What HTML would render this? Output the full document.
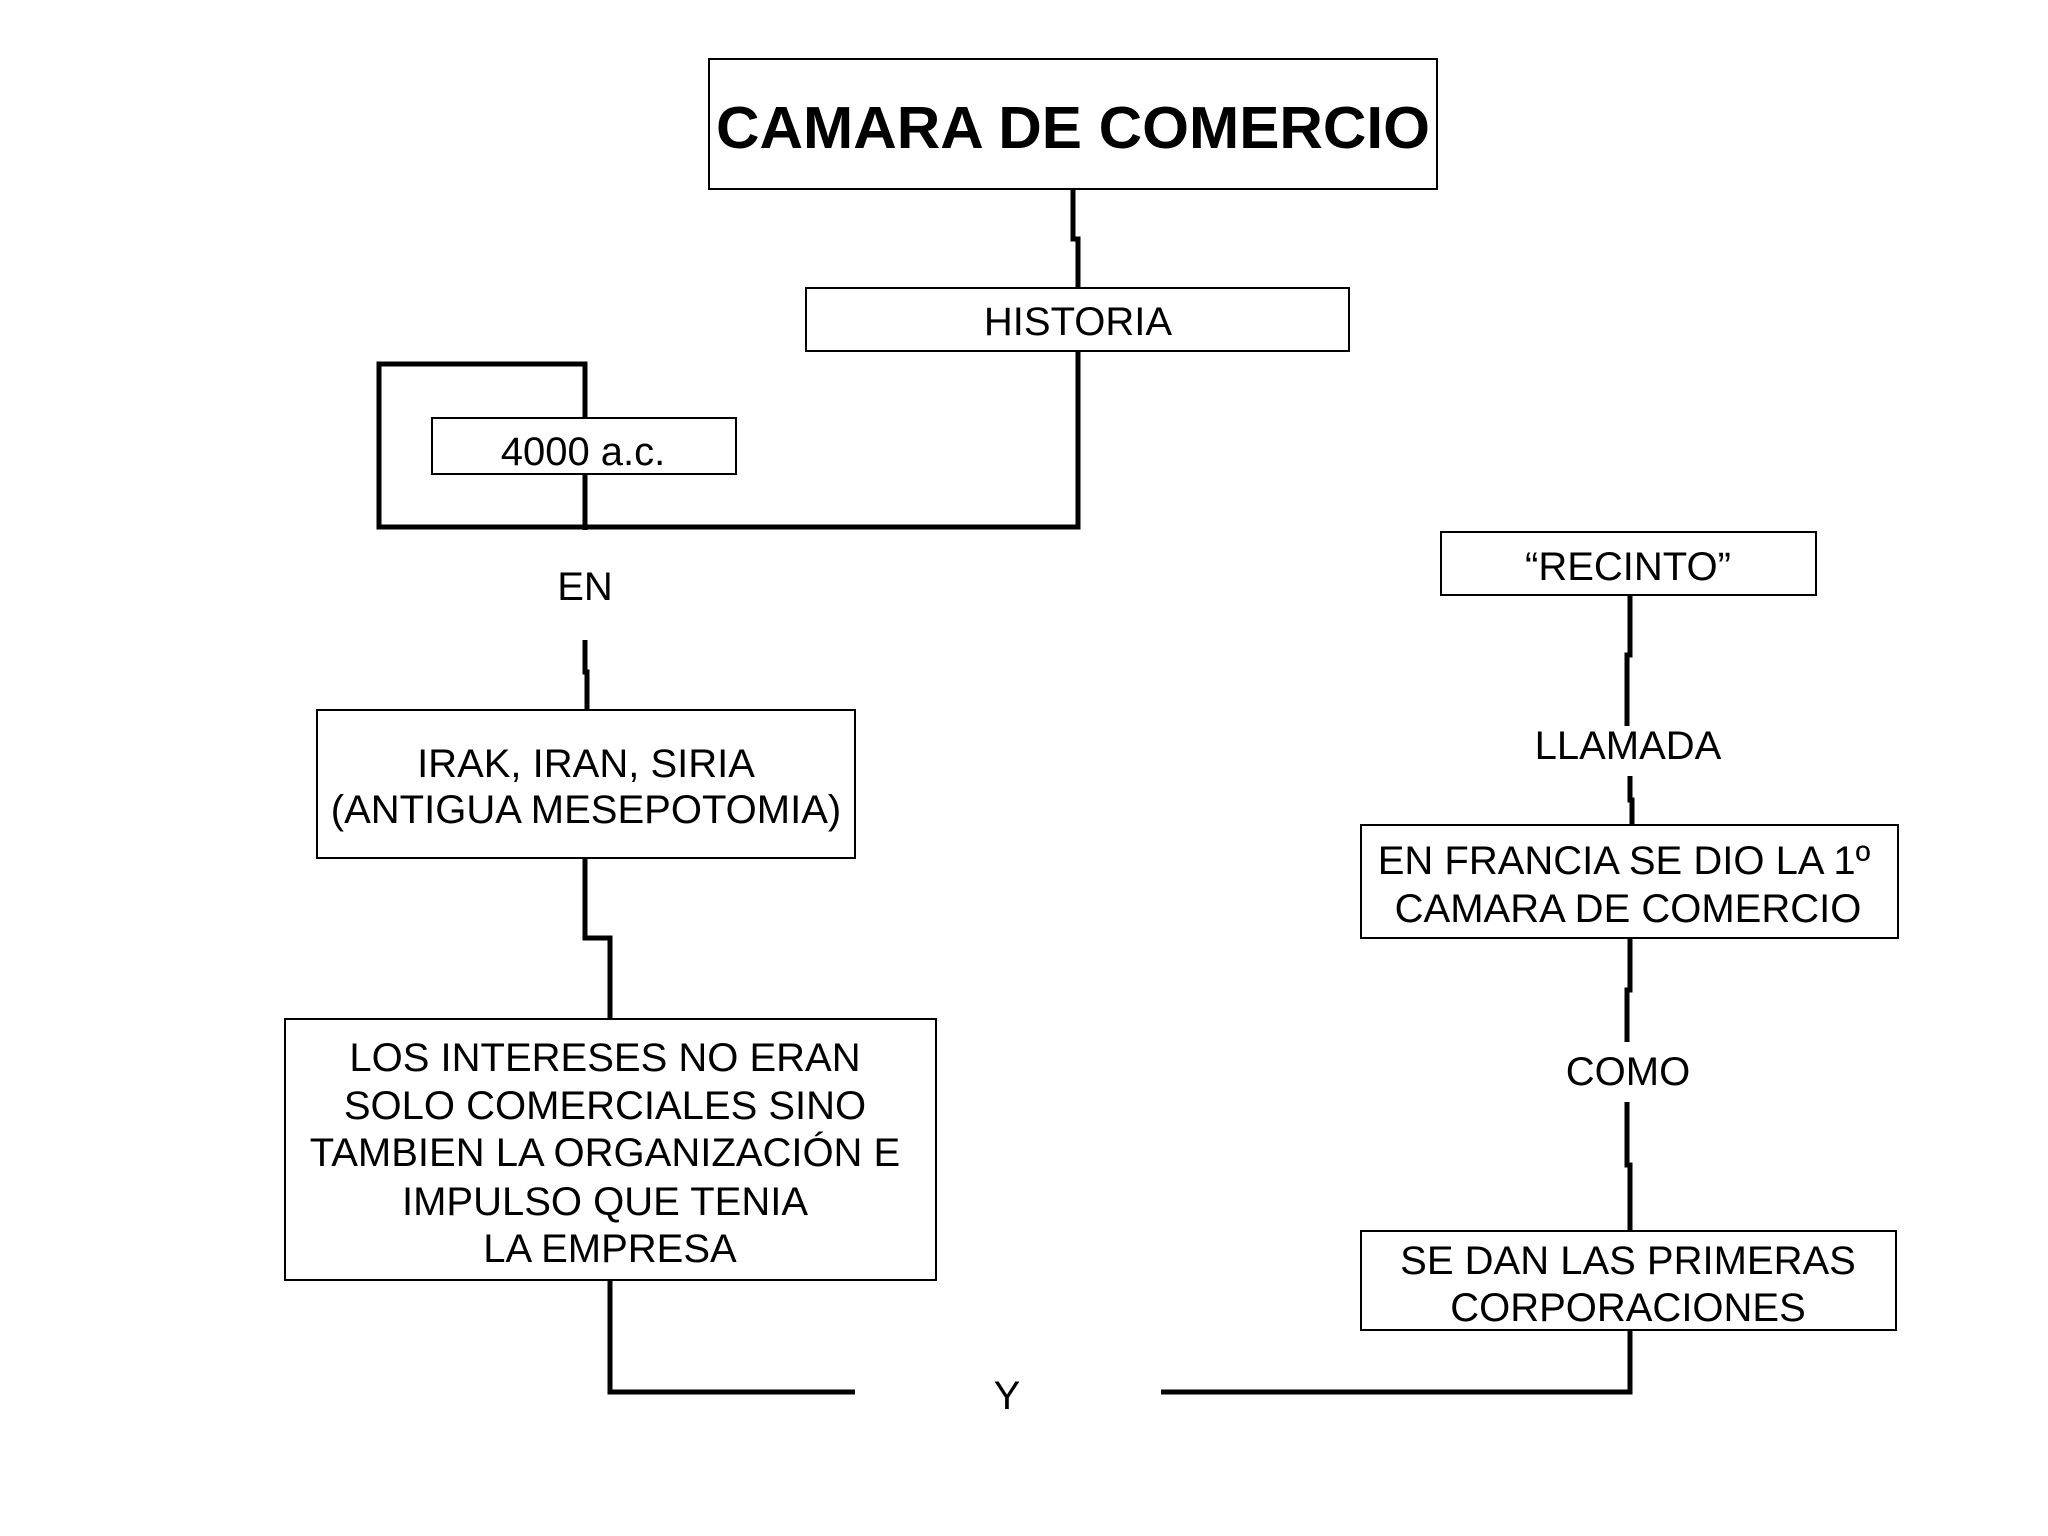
<!DOCTYPE html>
<html><head><meta charset="utf-8"><style>html,body{margin:0;padding:0;background:#fff}svg{display:block}</style></head>
<body>
<svg width="2048" height="1536" viewBox="0 0 2048 1536" xmlns="http://www.w3.org/2000/svg" font-family="Liberation Sans, Arial, sans-serif" text-anchor="middle">
<rect width="2048" height="1536" fill="#fff"/>
<g fill="none" stroke="#000" stroke-width="5">
<polyline points="1073,189 1073,239 1078,239 1078,288"/>
<polyline points="1078,351 1078,527 379,527 379,364 585,364 585,418"/>
<line x1="585" y1="474" x2="585" y2="530"/>
<polyline points="585,640 585,672 587,672 587,710"/>
<polyline points="585,858 585,938 610,938 610,1019"/>
<polyline points="610,1280 610,1392 855,1392"/>
<polyline points="1161,1392 1630,1392 1630,1330"/>
<polyline points="1630,595 1630,655 1627,655 1627,726"/>
<polyline points="1630,776 1630,800 1632,800 1632,825"/>
<polyline points="1630,938 1630,990 1627,990 1627,1042"/>
<polyline points="1627,1102 1627,1165 1630,1165 1630,1231"/>
</g>
<g fill="#fff" stroke="#000" stroke-width="2">
<rect x="709" y="59" width="728" height="130"/>
<rect x="806" y="288" width="543" height="63"/>
<rect x="432" y="418" width="304" height="56"/>
<rect x="317" y="710" width="538" height="148"/>
<rect x="285" y="1019" width="651" height="261"/>
<rect x="1441" y="532" width="375" height="63"/>
<rect x="1361" y="825" width="537" height="113"/>
<rect x="1361" y="1231" width="535" height="99"/>
</g>
<line x1="585" y1="474" x2="585" y2="530" stroke="#000" stroke-width="5"/>
<line x1="585" y1="364" x2="585" y2="418" stroke="#000" stroke-width="5"/>
<g fill="#000" font-size="40">
<text x="1073" y="148" font-size="59" font-weight="bold" textLength="714" lengthAdjust="spacingAndGlyphs">CAMARA DE COMERCIO</text>
<text x="1078" y="335">HISTORIA</text>
<text x="583" y="465">4000 a.c.</text>
<text x="585" y="600">EN</text>
<text x="586" y="777">IRAK, IRAN, SIRIA</text>
<text x="586" y="823">(ANTIGUA MESEPOTOMIA)</text>
<text x="605" y="1071">LOS INTERESES NO ERAN</text>
<text x="605" y="1119">SOLO COMERCIALES SINO</text>
<text x="605" y="1166">TAMBIEN LA ORGANIZACIÓN E</text>
<text x="605" y="1215">IMPULSO QUE TENIA</text>
<text x="610" y="1262">LA EMPRESA</text>
<text x="1007" y="1409">Y</text>
<text x="1628" y="580">“RECINTO”</text>
<text x="1628" y="759">LLAMADA</text>
<text x="1624" y="874">EN FRANCIA SE DIO LA 1º</text>
<text x="1628" y="922">CAMARA DE COMERCIO</text>
<text x="1628" y="1085">COMO</text>
<text x="1628" y="1274">SE DAN LAS PRIMERAS</text>
<text x="1628" y="1321">CORPORACIONES</text>
</g>
</svg>
</body></html>
